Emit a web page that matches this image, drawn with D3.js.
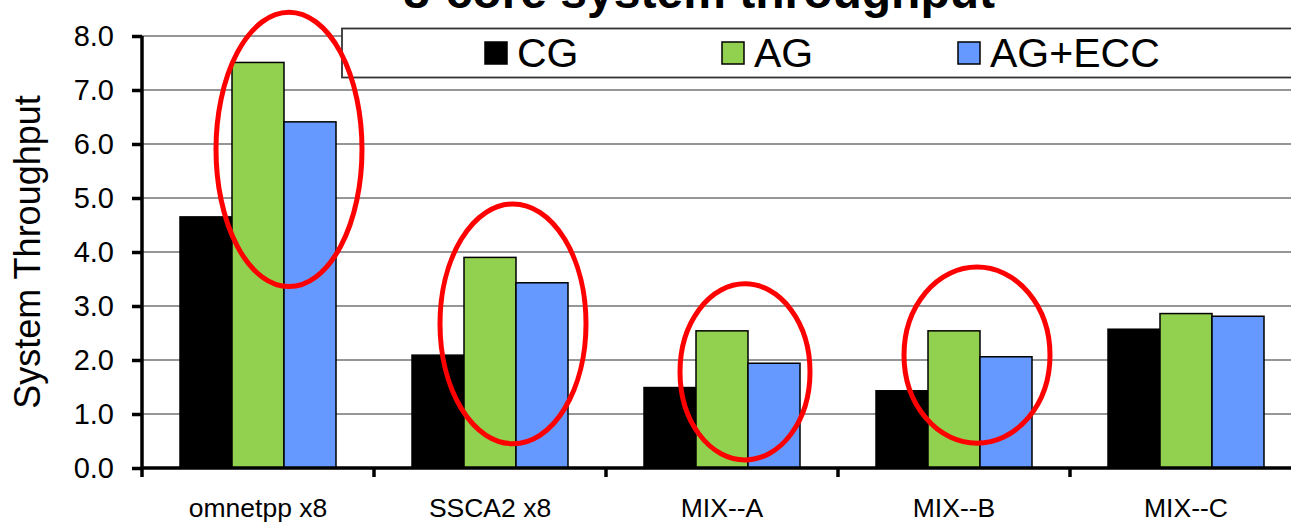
<!DOCTYPE html>
<html><head><meta charset="utf-8">
<script src="https://cdn.jsdelivr.net/npm/d3@7/dist/d3.min.js"></script>
<style>
html,body{margin:0;padding:0;background:#fff;}
svg{display:block;font-family:Arial,"Liberation Sans",sans-serif;}
</style></head>
<body>
<svg id="chart" width="1291" height="523"></svg>
<script>
const title = "8-core system throughput";
const yTitle = "System Throughput";
const categories = ["omnetpp x8", "SSCA2 x8", "MIX--A", "MIX--B", "MIX--C"];
const seriesNames = ["CG", "AG", "AG+ECC"];
const seriesColors = ["#000000", "#92D050", "#6699FF"];
const cgValues = [4.65, 2.09, 1.49, 1.43, 2.57];
const agValues = [7.51, 3.90, 2.54, 2.54, 2.86];
const eccValues = [6.41, 3.43, 1.94, 2.06, 2.81];
const yTicks = [0, 1, 2, 3, 4, 5, 6, 7, 8];
// annotation ellipses: category, centre value, vertical radius (value units)
const annoCats = ["omnetpp x8", "SSCA2 x8", "MIX--A", "MIX--B"];
const annoCenter = [5.9, 2.67, 1.78, 2.09];
const annoRadius = [2.54, 2.22, 1.63, 1.63];

const series = [cgValues, agValues, eccValues];
const svg = d3.select("#chart");
const plotLeft = 142, plotRight = 1302, plotTop = 36, plotBottom = 468;

const y = d3.scaleLinear().domain([0, 8]).range([plotBottom, plotTop]);
const x0 = d3.scaleBand().domain(categories).range([plotLeft, plotRight]).padding(0);
const x1 = d3.scaleBand().domain(seriesNames).range([38, x0.bandwidth() - 38]).padding(0);

// gridlines
svg.append("g").selectAll("line").data(yTicks.filter(d => d > 0)).join("line")
  .attr("x1", plotLeft).attr("x2", plotRight)
  .attr("y1", d => y(d)).attr("y2", d => y(d))
  .attr("stroke", "#969696").attr("stroke-width", 1.8);

// bars
const groups = svg.append("g").selectAll("g").data(categories).join("g")
  .attr("transform", c => `translate(${x0(c)},0)`);
groups.selectAll("rect").data((c, i) => seriesNames.map((s, j) => ({s, j, v: series[j][i]}))).join("rect")
  .attr("x", d => x1(d.s)).attr("width", x1.bandwidth())
  .attr("y", d => y(d.v)).attr("height", d => y(0) - y(d.v))
  .attr("fill", d => seriesColors[d.j]).attr("stroke", "#000").attr("stroke-width", 1.5);

// y axis
const yAxis = d3.axisLeft(y).tickValues(yTicks).tickFormat(d3.format(".1f")).tickSize(10).tickPadding(18);
const gy = svg.append("g").attr("transform", `translate(${plotLeft},0)`).call(yAxis);
gy.select(".domain").attr("stroke", "#000").attr("stroke-width", 3.5).attr("d", `M0,${plotTop}V${plotBottom}`);
gy.selectAll(".tick line").attr("stroke", "#000").attr("stroke-width", 3.5);
gy.selectAll(".tick text").attr("font-size", 29).attr("fill", "#000").attr("font-family", "Arial, 'Liberation Sans', sans-serif");

// x axis
const xAxis = d3.axisBottom(x0).tickSize(0).tickPadding(30);
const gx = svg.append("g").attr("transform", `translate(0,${plotBottom})`).call(xAxis);
gx.select(".domain").attr("stroke", "#000").attr("stroke-width", 3.5).attr("d", `M${plotLeft},0H${plotRight}`);
gx.selectAll(".tick text").attr("font-size", 26.5).attr("fill", "#000").attr("font-family", "Arial, 'Liberation Sans', sans-serif");
// category boundary ticks
svg.append("g").selectAll("line").data(categories.concat(["_end"])).join("line")
  .attr("x1", (c, i) => plotLeft + i * x0.step()).attr("x2", (c, i) => plotLeft + i * x0.step())
  .attr("y1", plotBottom).attr("y2", plotBottom + 9)
  .attr("stroke", "#000").attr("stroke-width", 3.5);

// y title
svg.append("text").attr("transform", `translate(40,${(plotTop + plotBottom) / 2}) rotate(-90)`)
  .attr("text-anchor", "middle").attr("font-size", 36).text(yTitle);

// title
svg.append("text").attr("x", 699).attr("y", 8).attr("text-anchor", "middle")
  .attr("font-size", 48).attr("font-weight", "bold").text(title);

// legend
const lg = svg.append("g");
lg.append("rect").attr("x", 342).attr("y", 28.5).attr("width", 1000).attr("height", 49)
  .attr("fill", "#fff").attr("stroke", "#333").attr("stroke-width", 1.8);
const legX = [485, 722, 958];
const items = lg.selectAll("g.item").data(seriesNames).join("g").attr("class", "item")
  .attr("transform", (d, i) => `translate(${legX[i]},0)`);
items.append("rect").attr("x", 0).attr("y", 42).attr("width", 22).attr("height", 22)
  .attr("fill", (d, i) => seriesColors[i]).attr("stroke", "#000").attr("stroke-width", 1.5);
items.append("text").attr("x", 32).attr("y", 67).attr("font-size", 41).text(d => d);

// annotation ellipses
svg.append("g").selectAll("ellipse").data(annoCats).join("ellipse")
  .attr("cx", (c, i) => x0(c) + x0.bandwidth() / 2 + (i === 0 ? 31 : 23))
  .attr("cy", (c, i) => y(annoCenter[i]))
  .attr("rx", (c, i) => i === 2 ? 65 : 73)
  .attr("ry", (c, i) => y(0) - y(annoRadius[i]))
  .attr("fill", "none").attr("stroke", "#ff0000").attr("stroke-width", 5);
</script>
</body></html>
